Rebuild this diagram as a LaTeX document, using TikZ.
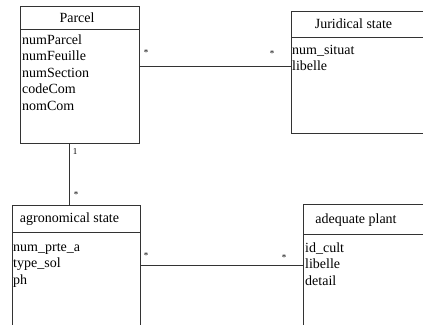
\documentclass[tikz,border=0pt]{standalone}
\usepackage{fontspec}
\setmainfont{Liberation Serif}

\begin{document}
\begin{tikzpicture}[x=1pt,y=-1pt,
	classbox/.style={draw=black!80,line width=0.9pt,rectangle,inner sep=0,outer sep=0},
	classname/.style={font=\fontsize{14}{16}\selectfont,inner sep=0},
	attrlist/.style={font=\fontsize{14}{16.5}\selectfont,align=left,anchor=north west,inner sep=0},
	mult/.style={font=\fontsize{9}{10}\selectfont,inner sep=0},
	link/.style={draw=black!80,line width=0.9pt}]
	\clip (0,0) rectangle (423,324);
	% classes
	\node[classbox,minimum width=119pt,minimum height=137pt] (parcel) at (79.5,74.5) {};
	\node[classbox,minimum width=149pt,minimum height=122pt] (juridical) at (365.5,72) {};
	\node[classbox,minimum width=128pt,minimum height=135pt] (agro) at (76,272.5) {};
	\node[classbox,minimum width=137pt,minimum height=136pt] (plant) at (371.5,272) {};
	\draw[link] (parcel.west |- 0,29) -- (parcel.east |- 0,29);
	\draw[link] (juridical.west |- 0,37) -- (juridical.east |- 0,37);
	\draw[link] (agro.west |- 0,232) -- (agro.east |- 0,232);
	\draw[link] (plant.west |- 0,234) -- (plant.east |- 0,234);
	\node[classname] (parcel-name) at (77,18) {Parcel};
	\node[classname] (juridical-name) at (353.5,24) {Juridical state};
	\node[classname] (agro-name) at (69.5,219) {agronomical state};
	\node[classname] (plant-name) at (356,220) {adequate plant};
	% attributes (top of first strut = baseline - 11.55)
	\node[attrlist] (parcel-attr) at (22,32.45) {\strut numParcel\\numFeuille\\numSection\\codeCom\\nomCom};
	\node[attrlist] (juridical-attr) at (292,42.45) {\strut num\_situat\\libelle};
	\node[attrlist] (agro-attr) at (13,239.45) {\strut num\_prte\_a\\type\_sol\\ph};
	\node[attrlist] (plant-attr) at (305,240.45) {\strut id\_cult\\libelle\\detail};
	% associations
	\draw[link] ([yshift=8.5pt]parcel.east) coordinate (pj) -- (pj -| juridical.west);
	\draw[link] ([xshift=-10.5pt]parcel.south) coordinate (pa) -- (pa |- agro.north);
	\draw[link] ([yshift=7.5pt]agro.east) coordinate (ap) -- (ap -| plant.west);
	\node[mult] (pj-1) at (146,53) {*};
	\node[mult] (pj-2) at (272,54) {*};
	\node[mult] (pa-1) at (75,152) {1};
	\node[mult] (pa-2) at (76,195) {*};
	\node[mult] (ap-1) at (146,256) {*};
	\node[mult] (ap-2) at (284,258) {*};
\end{tikzpicture}
\end{document}
